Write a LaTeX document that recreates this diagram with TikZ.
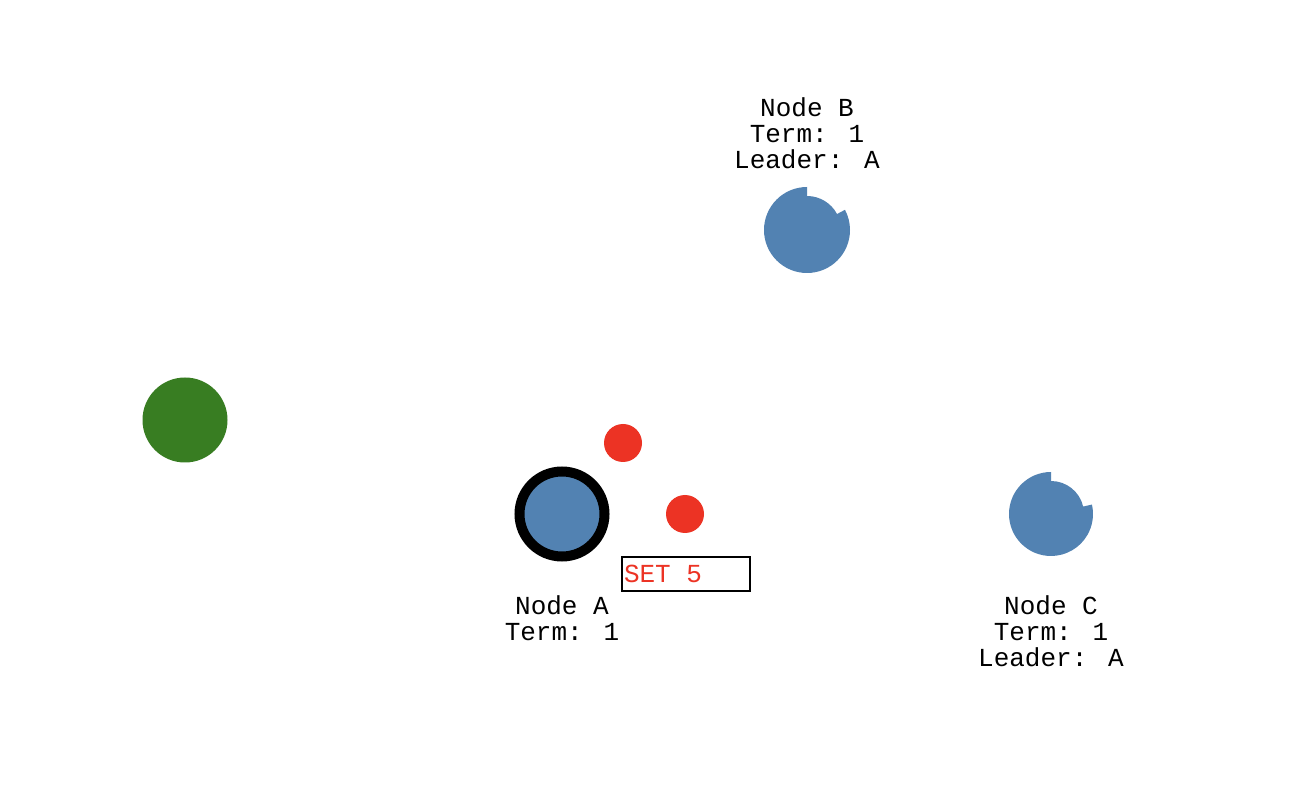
\documentclass[tikz,border=0pt]{standalone}
\usepackage{fontspec}
\usepackage{tikz}
\usetikzlibrary{positioning,calc}
\usepackage{xcolor}
\newfontfamily\labelfont{Liberation Mono}
\definecolor{nodeblue}{HTML}{5282B2}
\definecolor{clientgreen}{HTML}{387D22}
\definecolor{msgred}{HTML}{EC3324}

\tikzset{
    nodelabel/.style={font=\labelfont\fontsize{26}{26}\selectfont, align=center, inner sep=0pt, anchor=base},
    msgdot/.style={circle, fill=msgred, minimum size=38pt, inner sep=0pt},
}

\begin{document}
\begin{tikzpicture}[x=1pt, y=1pt]
    % Background
    \fill[white] (0,0) rectangle (1312,804);
    \useasboundingbox (0,0) rectangle (1312,804);

    % Client
    \node[circle, fill=clientgreen, minimum size=85pt, inner sep=0pt] (client) at (185,384) {};

    % Leader A
    \node[circle, fill=nodeblue, draw=black, line width=10pt, minimum size=85pt, inner sep=0pt] (A) at (562,290) {};
    \node[nodelabel] (labA) at (562,164) {Node A\\Term: 1};

    % Follower B (notched)
    \coordinate (B) at (807,574);
    \fill[nodeblue] ($(B)+(28:34)$) arc[start angle=28, end angle=90, radius=34]
        -- ($(B)+(90:43)$) arc[start angle=90, end angle=388, radius=43] -- cycle;
    \node[nodelabel] (labB) at (807,635) {Node B\\Term: 1\\Leader: A};

    % Follower C (notched)
    \coordinate (C) at (1051,290);
    \fill[nodeblue] ($(C)+(13:33)$) arc[start angle=13, end angle=90, radius=33]
        -- ($(C)+(90:42)$) arc[start angle=90, end angle=373, radius=42] -- cycle;
    \node[nodelabel] (labC) at (1051,138) {Node C\\Term: 1\\Leader: A};

    % Messages in flight
    \node[msgdot] (m1) at (623,361) {};
    \node[msgdot] (m2) at (685,290) {};

    % Client request
    \node[draw=black, line width=1.5pt, minimum width=128pt, minimum height=34pt, inner xsep=2pt, inner ysep=0pt, text=msgred, font=\labelfont\fontsize{26}{26}\selectfont] (req) at (686,230) {\makebox[124pt][l]{SET~5}};

\end{tikzpicture}
\end{document}
